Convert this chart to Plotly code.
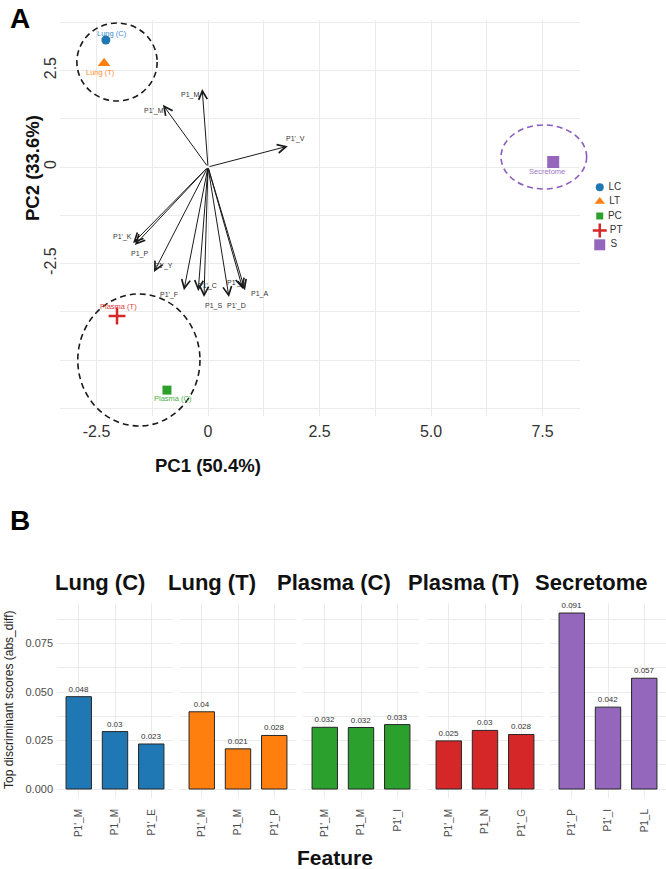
import plotly.graph_objects as go

W, H = 666, 869

# ---------------- Panel A data ----------------
groups = ["Lung (C)", "Lung (T)", "Plasma (T)", "Plasma (C)", "Secretome"]
group_codes = ["LC", "LT", "PT", "PC", "S"]
pc1 = [-2.29, -2.33, -2.04, -0.92, 7.74]
pc2 = [3.29, 2.69, -3.86, -5.78, 0.13]

loading_names = ["P1_M", "P1'_M", "P1'_V", "P1'_K", "P1_P", "P1'_Y",
                 "P1'_F", "P1'_C", "P1_S", "P1'_D", "P1'_A", "P1_A"]
load_pc1 = [-0.13, -1.01, 1.79, -1.68, -1.64, -1.21, -0.54, -0.22, -0.09, 0.47, 0.78, 0.83]
load_pc2 = [2.02, 1.61, 0.54, -1.97, -2.02, -2.72, -3.19, -3.21, -3.37, -3.37, -3.16, -3.19]

ellipse_cx = [-2.04, -1.55, 7.53]
ellipse_cy = [2.72, -5.00, 0.26]
ellipse_rx = [0.90, 1.37, 0.96]
ellipse_ry = [1.01, 1.71, 0.83]

pc1_ticks = [-2.5, 0, 2.5, 5.0, 7.5]
pc1_tick_labels = ["-2.5", "0", "2.5", "5.0", "7.5"]
pc2_ticks = [-2.5, 0, 2.5]
pc2_tick_labels = ["-2.5", "0", "2.5"]

legend_codes = ["LC", "LT", "PC", "PT", "S"]

# ---------------- Panel B data ----------------
facets = ["Lung (C)", "Lung (T)", "Plasma (C)", "Plasma (T)", "Secretome"]
feat_lung_c = ["P1'_M", "P1_M", "P1'_E"]
score_lung_c = [0.0476, 0.0296, 0.0232]
feat_lung_t = ["P1'_M", "P1_M", "P1'_P"]
score_lung_t = [0.0398, 0.0207, 0.0276]
feat_plasma_c = ["P1'_M", "P1_M", "P1'_I"]
score_plasma_c = [0.0318, 0.0317, 0.0332]
feat_plasma_t = ["P1'_M", "P1_N", "P1'_G"]
score_plasma_t = [0.0248, 0.0302, 0.0281]
feat_secretome = ["P1'_P", "P1'_I", "P1_L"]
score_secretome = [0.0907, 0.0422, 0.0571]
yB_ticks = [0.0, 0.025, 0.05, 0.075]

# ---------------- styles ----------------
FONT = "Liberation Sans, Arial, Helvetica, sans-serif"
col = {"LC": "#1f77b4", "LT": "#ff7f0e", "PC": "#2ca02c", "PT": "#d62728", "S": "#9467bd"}
label_col = {"LC": "#3b8ed0", "LT": "#ff8c2a", "PC": "#45b045", "PT": "#e03a3a", "S": "#9d76c4"}
sym = {"LC": "circle", "LT": "triangle-up", "PC": "square", "PT": "cross-thin", "S": "square"}
msize = {"LC": 9, "LT": 11, "PC": 9, "PT": 12, "S": 12}
leg_size = {"LC": 8, "LT": 9, "PC": 7, "PT": 10, "S": 11}
GRID = "#ebebeb"
facet_col = [col["LC"], col["LT"], col["PC"], col["PT"], col["S"]]

arrow_lbl_dx = [-12, -9, 8, -11, 5, 9, -15, 9, 10, 8, -6, 14]
arrow_lbl_dy = [6, 6, -7, -6, 9, -6, 5, -5, 9, 9, -6, 4]
pt_lbl_dx = [6, -4, 1, 6, -6]
pt_lbl_dy = [-7, 9, -10, 8, 10]
ellipse_colors = ["#1a1a1a", "#1a1a1a", "#8a5cc0"]


def fx(px):
    return px / W


def fy(py):
    return 1 - py / H


# pixel -> data scale for panel A
def xv(px):
    return (px - 208) / 44.6


def yv(py):
    return (167 - py) / 38.6


fig = go.Figure()

# ---- Panel A points ----
for i, g in enumerate(groups):
    c = group_codes[i]
    fig.add_trace(go.Scatter(
        x=[pc1[i]], y=[pc2[i]], mode="markers", xaxis="x", yaxis="y",
        marker=dict(symbol=sym[c], size=msize[c], color=col[c],
                    line=dict(color=col[c], width=2.5 if c == "PT" else 0)),
        showlegend=False, hoverinfo="skip"))

# ---- manual legend ----
for i, c in enumerate(legend_codes):
    fig.add_trace(go.Scatter(
        x=[0], y=[len(legend_codes) - 1 - i], mode="markers+text", xaxis="x8", yaxis="y8",
        marker=dict(symbol=sym[c], size=leg_size[c], color=col[c],
                    line=dict(color=col[c], width=2.5 if c == "PT" else 0)),
        text=[" " + c], textposition="middle right",
        textfont=dict(size=10, color="#333333", family=FONT),
        showlegend=False, hoverinfo="skip", cliponaxis=False))

annotations = []
shapes = []

# ---- loadings arrows ----
for i, n in enumerate(loading_names):
    annotations.append(dict(
        x=load_pc1[i], y=load_pc2[i], xref="x", yref="y",
        ax=0, ay=0, axref="x", ayref="y", text="", showarrow=True,
        arrowhead=5, arrowsize=1.7, arrowwidth=1, arrowcolor="#1a1a1a", standoff=0))
    annotations.append(dict(
        x=load_pc1[i], y=load_pc2[i], xref="x", yref="y", text=n, showarrow=False,
        xshift=arrow_lbl_dx[i], yshift=-arrow_lbl_dy[i], xanchor="center", yanchor="middle",
        font=dict(size=7, color="#333333", family=FONT)))

# ---- point labels ----
for i, g in enumerate(groups):
    c = group_codes[i]
    annotations.append(dict(
        x=pc1[i], y=pc2[i], xref="x", yref="y", text=g, showarrow=False,
        xshift=pt_lbl_dx[i], yshift=-pt_lbl_dy[i], xanchor="center", yanchor="middle",
        font=dict(size=7.5, color=label_col[c], family=FONT)))

# ---- ellipses ----
for i in range(len(ellipse_cx)):
    shapes.append(dict(
        type="circle", xref="x7", yref="y7",
        x0=ellipse_cx[i] - ellipse_rx[i], x1=ellipse_cx[i] + ellipse_rx[i],
        y0=ellipse_cy[i] - ellipse_ry[i], y1=ellipse_cy[i] + ellipse_ry[i],
        line=dict(color=ellipse_colors[i], width=1.6, dash="6px,4px"), layer="above"))

# ---- Panel B bars ----
feat_lists = [feat_lung_c, feat_lung_t, feat_plasma_c, feat_plasma_t, feat_secretome]
score_lists = [score_lung_c, score_lung_t, score_plasma_c, score_plasma_t, score_secretome]
fac_x0 = [57, 180, 303, 427, 550]
fac_w = 116
title_cx = [100, 212, 334, 463, 591]

layout_axes = {}
for k in range(5):
    xa = "x%d" % (k + 2)
    ya = "y%d" % (k + 2)
    vals = score_lists[k]
    fig.add_trace(go.Bar(
        x=feat_lists[k], y=vals, xaxis=xa, yaxis=ya, width=0.7,
        marker=dict(color=facet_col[k], line=dict(color="#262626", width=1)),
        text=["%g" % round(v, 3) for v in vals], textposition="outside",
        textfont=dict(size=8, color="#333333", family=FONT),
        constraintext="none", cliponaxis=False, showlegend=False, hoverinfo="skip"))
    layout_axes["xaxis%d" % (k + 2)] = dict(
        domain=[fx(fac_x0[k]), fx(fac_x0[k] + fac_w)], anchor=ya,
        type="category", categoryorder="array", categoryarray=feat_lists[k],
        range=[-0.6, 2.6], showgrid=True, gridcolor=GRID, gridwidth=1,
        zeroline=False, showline=False, ticks="", tickangle=-90,
        tickfont=dict(size=10, color="#4d4d4d", family=FONT), ticklabelstandoff=8)
    layout_axes["yaxis%d" % (k + 2)] = dict(
        domain=[fy(798), fy(603)], anchor=xa,
        range=[(789 - 798) / 1940.0, (789 - 603) / 1940.0],
        tickmode="array", tickvals=yB_ticks, tickformat=".3f",
        showticklabels=(k == 0), showgrid=True, gridcolor=GRID, gridwidth=1,
        minor=dict(showgrid=True, gridcolor=GRID, gridwidth=0.5, tickmode="linear", tick0=0, dtick=0.0125),
        zeroline=False, showline=False, ticks="",
        tickfont=dict(size=11, color="#4d4d4d", family=FONT), ticklabelstandoff=3)
    annotations.append(dict(
        x=fx(title_cx[k]), y=fy(582), xref="paper", yref="paper", text="<b>%s</b>" % facets[k],
        xanchor="center", yanchor="middle",
        showarrow=False, font=dict(size=22, color="#111111", family=FONT)))


def ptext(x, y, t, size, angle=0, color="#111111"):
    return dict(x=fx(x), y=fy(y), xref="paper", yref="paper", text=t, showarrow=False,
                xanchor="center", yanchor="middle", textangle=angle,
                font=dict(size=size, color=color, family=FONT))


annotations += [
    ptext(20, 18, "<b>A</b>", 28, color="#000000"),
    ptext(20, 520, "<b>B</b>", 28, color="#000000"),
    ptext(208, 465, "<b>PC1 (50.4%)</b>", 18.5),
    ptext(33, 168, "<b>PC2 (33.6%)</b>", 18.5, angle=-90),
    ptext(335, 857, "<b>Feature</b>", 21),
    ptext(9, 700, "Top discriminant scores (abs_diff)", 12, angle=-90, color="#222222"),
]

fig.update_layout(
    width=W, height=H, autosize=False,
    margin=dict(l=0, r=0, t=0, b=0),
    paper_bgcolor="white", plot_bgcolor="rgba(0,0,0,0)",
    font=dict(family=FONT),
    showlegend=False,
    xaxis=dict(domain=[fx(60), fx(580)], anchor="y", range=[xv(60), xv(580)],
               tickmode="array", tickvals=pc1_ticks, ticktext=pc1_tick_labels,
               showgrid=True, gridcolor=GRID, gridwidth=1,
               minor=dict(showgrid=True, gridcolor=GRID, gridwidth=0.5, tickmode="linear", tick0=0, dtick=1.25),
               zeroline=False, showline=False, ticks="",
               tickfont=dict(size=16, color="#333333", family=FONT), ticklabelstandoff=4),
    yaxis=dict(domain=[fy(416), fy(20)], anchor="x", range=[yv(416), yv(20)],
               tickmode="array", tickvals=pc2_ticks, ticktext=pc2_tick_labels, tickangle=-90,
               showgrid=True, gridcolor=GRID, gridwidth=1,
               minor=dict(showgrid=True, gridcolor=GRID, gridwidth=0.5, tickmode="linear", tick0=0, dtick=1.25),
               zeroline=False, showline=False, ticks="",
               tickfont=dict(size=16, color="#333333", family=FONT), ticklabelstandoff=0),
    xaxis7=dict(domain=[fx(20), fx(620)], anchor="y7", range=[xv(20), xv(620)], visible=False),
    yaxis7=dict(domain=[fy(445), fy(5)], anchor="x7", range=[yv(445), yv(5)], visible=False),
    xaxis8=dict(domain=[fx(594), fx(640)], anchor="y8", range=[-0.5, 3.5], visible=False),
    yaxis8=dict(domain=[fy(252), fy(180)], anchor="x8", range=[-0.5, 4.5], visible=False),
    annotations=annotations,
    shapes=shapes,
    **layout_axes,
)

fig.write_html("out.html")
